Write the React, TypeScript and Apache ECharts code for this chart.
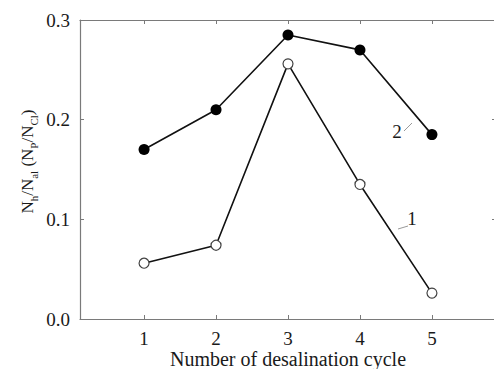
import React, { useEffect, useRef } from "react";
import * as echarts from "echarts";

const cycles = [1, 2, 3, 4, 5];
const series1 = [0.056, 0.074, 0.256, 0.135, 0.026]; // open circles, "1"
const series2 = [0.17, 0.21, 0.285, 0.27, 0.185]; // filled circles, "2"
const yTicks = [0, 0.1, 0.2, 0.3];

const FONT = "'Liberation Serif', 'Times New Roman', serif";
const AXIS_COLOR = "#7a7a7a";
const TEXT = "#1a1a1a";

export default function App() {
  const ref = useRef<HTMLDivElement>(null);
  useEffect(() => {
    document.body.style.margin = "0";
    const chart = echarts.init(ref.current!, null, { renderer: "svg" });
    const axisCommon = {
      axisLine: { show: true, onZero: false, lineStyle: { color: AXIS_COLOR, width: 1.2 } },
      axisTick: { show: true, inside: true, length: 4, lineStyle: { color: AXIS_COLOR, width: 1 } },
      splitLine: { show: false },
    };
    chart.setOption({
      animation: false,
      backgroundColor: "#ffffff",
      textStyle: { fontFamily: FONT },
      grid: { left: 80, top: 20, width: 416, height: 299, outerBoundsMode: "none", containLabel: false },
      xAxis: [
        {
          type: "value",
          min: 0.11,
          max: 5.89,
          ...axisCommon,
          axisTick: { ...axisCommon.axisTick, customValues: cycles },
          axisLabel: {
            customValues: cycles,
            color: TEXT,
            fontFamily: FONT,
            fontSize: 19,
            margin: 10,
          },
          name: "Number of desalination cycle",
          nameLocation: "middle",
          nameGap: 30,
          nameMoveOverlap: false,
          nameTextStyle: { color: TEXT, fontFamily: FONT, fontSize: 20 },
        },
        {
          type: "value",
          position: "top",
          min: 0.11,
          max: 5.89,
          ...axisCommon,
          axisTick: { ...axisCommon.axisTick, customValues: cycles },
          axisLabel: { show: false },
        },
      ],
      yAxis: [
        {
          type: "value",
          min: 0,
          max: 0.3,
          interval: 0.1,
          ...axisCommon,
          axisLabel: {
            customValues: yTicks,
            formatter: (v: number) => v.toFixed(1),
            color: TEXT,
            fontFamily: FONT,
            fontSize: 19,
            margin: 10,
          },
          name: "{n|N}{s|h}{n|/N}{s|al}{n| (N}{s|P}{n|/N}{s|Cl}{n|)}",
          nameLocation: "middle",
          nameRotate: 90,
          nameGap: 44,
          nameMoveOverlap: false,
          nameTextStyle: {
            color: TEXT,
            fontFamily: FONT,
            padding: [0, 0, 0, 16],
            rich: {
              n: { fontFamily: FONT, fontSize: 17, color: TEXT, lineHeight: 24, verticalAlign: "bottom" },
              s: { fontFamily: FONT, fontSize: 11, color: TEXT, lineHeight: 24, verticalAlign: "bottom", padding: [0, 0, -3, 0] },
            },
          },
        },
        {
          type: "value",
          position: "right",
          min: 0,
          max: 0.3,
          interval: 0.1,
          ...axisCommon,
          axisLabel: { show: false },
        },
      ],
      series: [
        {
          name: "1",
          type: "line",
          data: cycles.map((c, i) => [c, series1[i]]),
          symbol: "circle",
          symbolSize: 10,
          showAllSymbol: true,
          lineStyle: { color: "#111", width: 1.6 },
          itemStyle: { color: "#ffffff", borderColor: "#444", borderWidth: 1.2 },
          z: 3,
        },
        {
          name: "2",
          type: "line",
          data: cycles.map((c, i) => [c, series2[i]]),
          symbol: "circle",
          symbolSize: 11,
          showAllSymbol: true,
          lineStyle: { color: "#111", width: 1.6 },
          itemStyle: { color: "#000", borderColor: "#000", borderWidth: 0 },
          z: 3,
        },
      ],
      graphic: [
        {
          type: "text",
          x: 397,
          y: 131,
          style: { text: "2", font: `19px 'Liberation Serif', serif`, fill: TEXT, align: "center", verticalAlign: "middle" },
        },
        {
          type: "line",
          shape: { x1: 404, y1: 131, x2: 412, y2: 123 },
          style: { stroke: "#999", lineWidth: 1 },
        },
        {
          type: "text",
          x: 412,
          y: 218,
          style: { text: "1", font: `19px 'Liberation Serif', serif`, fill: TEXT, align: "center", verticalAlign: "middle" },
        },
        {
          type: "line",
          shape: { x1: 398, y1: 229, x2: 408, y2: 226 },
          style: { stroke: "#999", lineWidth: 1 },
        },
      ],
    });
    return () => chart.dispose();
  }, []);
  return <div ref={ref} style={{ width: 494, height: 369 }} />;
}
